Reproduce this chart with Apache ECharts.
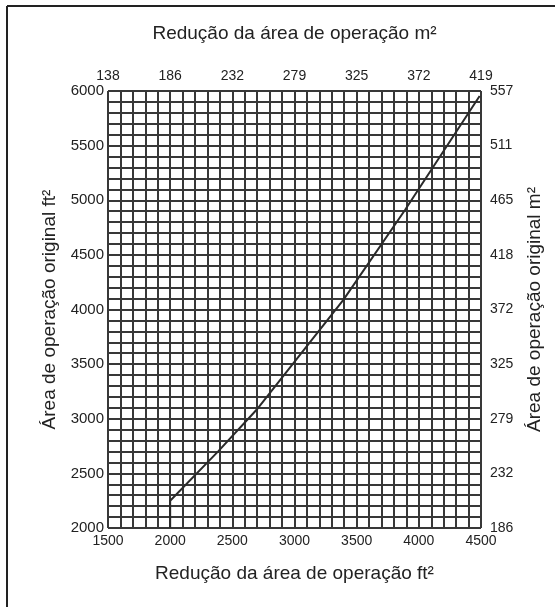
<html>
<head>
  <meta charset="utf-8">
  <title>Redução da área de operação</title>
  <script src="https://cdn.jsdelivr.net/npm/echarts@6/dist/echarts.min.js"></script>
  <style>
    body { margin: 0; background: #fff; }
  </style>
</head>
<body>
  <div id="main" style="width: 555px;height:607px;"></div>
  <script type="text/javascript">
    // curva (ft²)
    var curveX = [2000, 2000, 2386, 2695, 3393, 3890, 4489];
    var curveY = [2000, 2250, 2701, 3082, 4088, 4913, 5954];

    var bottomLabels = ['1500', '2000', '2500', '3000', '3500', '4000', '4500'];
    var topLabels = ['138', '186', '232', '279', '325', '372', '419'];
    var leftLabels = ['2000', '2500', '3000', '3500', '4000', '4500', '5000', '5500', '6000'];
    var rightLabels = ['186', '232', '279', '325', '372', '418', '465', '511', '557'];

    var font = '"Liberation Sans", Arial, sans-serif';
    var gridLine = { show: true, lineStyle: { color: '#383838', width: 2 } };
    var nameStyle = { fontSize: 19, color: '#222', fontFamily: font };

    function pick(list, min) {
      return function (v) {
        if (Math.round(v) % 500 !== 0) return '';
        return list[Math.round((v - min) / 500)] || '';
      };
    }

    var points = [];
    for (var i = 0; i < curveX.length; i++) {
      points.push([curveX[i], curveY[i]]);
    }

    var myChart = echarts.init(document.getElementById('main'));
    myChart.setOption({
      animation: false,
      backgroundColor: '#fff',
      textStyle: { fontFamily: font },
      grid: { left: 108, top: 91, width: 373, height: 437 },
      graphic: [
        { type: 'line', shape: { x1: 7, y1: 6, x2: 7, y2: 607 }, style: { stroke: '#222', lineWidth: 2 } },
        { type: 'line', shape: { x1: 7, y1: 6, x2: 555, y2: 6 }, style: { stroke: '#222', lineWidth: 2 } }
      ],
      xAxis: [{
        type: 'value', position: 'bottom', min: 1500, max: 4500, interval: 100,
        name: 'Redução da área de operação ft²', nameLocation: 'middle', nameGap: 36,
        nameTextStyle: nameStyle,
        axisLine: { show: false }, axisTick: { show: false },
        axisLabel: { formatter: pick(bottomLabels, 1500), fontSize: 14, color: '#222', margin: 6, fontFamily: font },
        splitLine: gridLine
      }, {
        type: 'value', position: 'top', min: 1500, max: 4500, interval: 500,
        name: 'Redução da área de operação m²', nameLocation: 'middle', nameGap: 48,
        nameTextStyle: nameStyle,
        axisLine: { show: false }, axisTick: { show: false },
        axisLabel: { formatter: pick(topLabels, 1500), fontSize: 14, color: '#222', margin: 8, fontFamily: font },
        splitLine: { show: false }
      }],
      yAxis: [{
        type: 'value', position: 'left', min: 2000, max: 6000, interval: 100,
        name: 'Área de operação original ft²', nameLocation: 'middle', nameGap: 40,
        nameTextStyle: nameStyle,
        axisLine: { show: false }, axisTick: { show: false },
        axisLabel: { formatter: pick(leftLabels, 2000), fontSize: 15, color: '#222', margin: 4, fontFamily: font },
        splitLine: gridLine
      }, {
        type: 'value', position: 'right', min: 2000, max: 6000, interval: 500,
        name: 'Área de operação original m²', nameLocation: 'middle', nameGap: 44,
        nameTextStyle: nameStyle,
        axisLine: { show: false }, axisTick: { show: false },
        axisLabel: { formatter: pick(rightLabels, 2000), fontSize: 14, color: '#222', margin: 9, fontFamily: font },
        splitLine: { show: false }
      }],
      series: [{
        type: 'line',
        xAxisIndex: 0,
        yAxisIndex: 0,
        data: points,
        symbol: 'none',
        lineStyle: { color: '#2a2a2a', width: 2 }
      }]
    });
  </script>
</body>
</html>
